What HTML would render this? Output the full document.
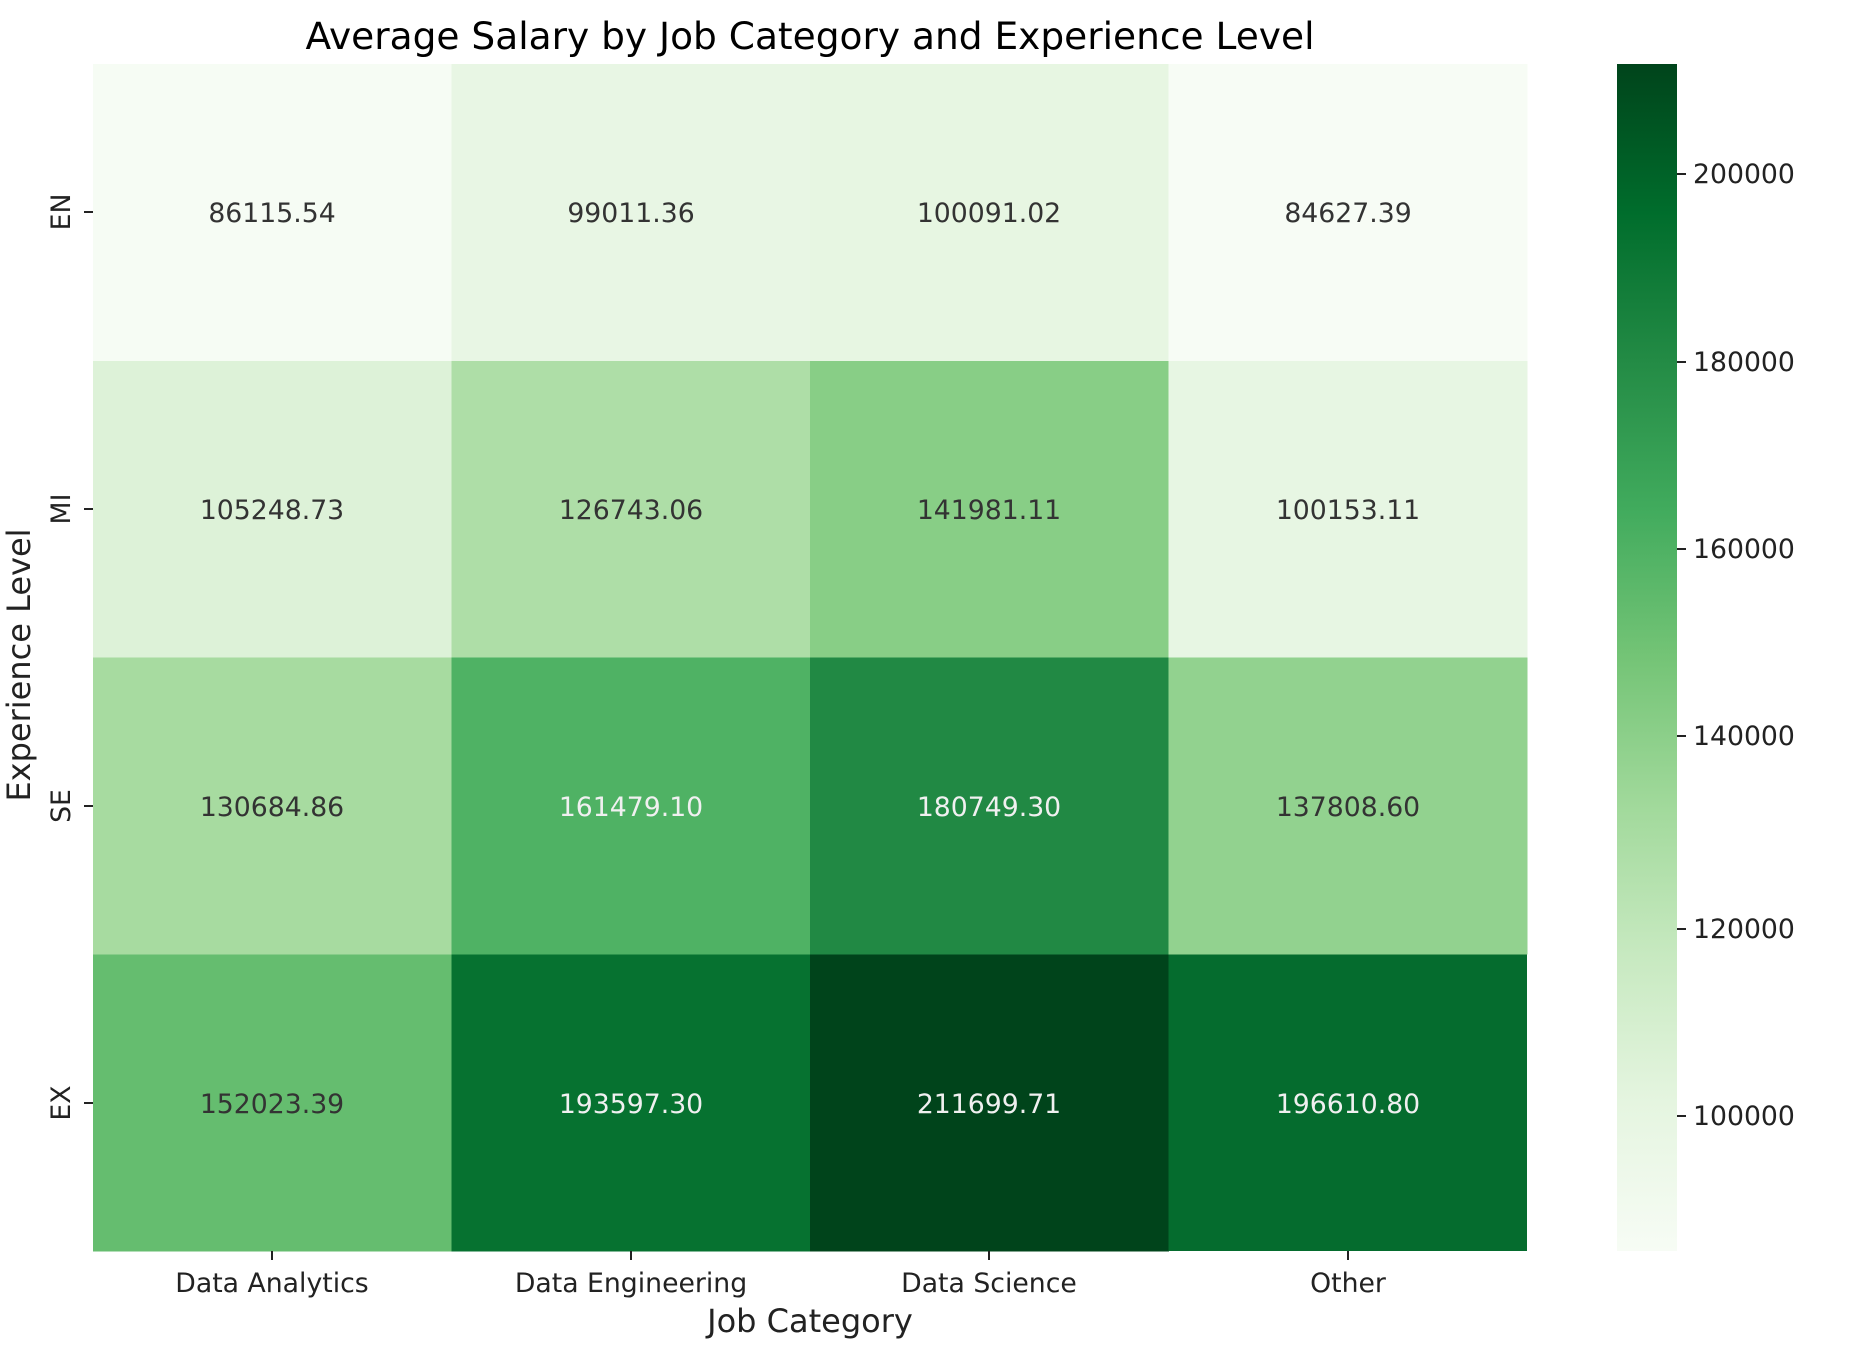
<!DOCTYPE html>
<html><head><meta charset="utf-8"><style>html,body{margin:0;padding:0;background:#fff}svg{display:block}text{font-family:"DejaVu Sans","Liberation Sans",sans-serif}</style></head>
<body>
<svg width="1860" height="1356" viewBox="0 0 1860 1356" xmlns="http://www.w3.org/2000/svg">
<defs>
<linearGradient id="g" x1="0" y1="1" x2="0" y2="0">
<stop offset="0" stop-color="#f7fcf5"/><stop offset="0.125" stop-color="#e5f5e0"/><stop offset="0.25" stop-color="#c7e9c0"/><stop offset="0.375" stop-color="#a1d99b"/><stop offset="0.5" stop-color="#74c476"/><stop offset="0.625" stop-color="#41ab5d"/><stop offset="0.75" stop-color="#238b45"/><stop offset="0.875" stop-color="#006d2c"/><stop offset="1" stop-color="#00441b"/>
</linearGradient>
</defs>
<text x="810" y="49" font-size="37.5" text-anchor="middle" fill="#000">Average Salary by Job Category and Experience Level</text>
<g shape-rendering="crispEdges">
<rect x="93" y="64" width="359" height="297" fill="#f6fcf4"/>
<rect x="451.5" y="64" width="359" height="297" fill="#e8f6e4"/>
<rect x="810" y="64" width="359" height="297" fill="#e7f6e2"/>
<rect x="1168.5" y="64" width="359" height="297" fill="#f7fcf5"/>
<rect x="93" y="360.75" width="359" height="297" fill="#ddf2d8"/>
<rect x="451.5" y="360.75" width="359" height="297" fill="#aedea7"/>
<rect x="810" y="360.75" width="359" height="297" fill="#88ce86"/>
<rect x="1168.5" y="360.75" width="359" height="297" fill="#e7f6e3"/>
<rect x="93" y="657.5" width="359" height="297" fill="#a7dba0"/>
<rect x="451.5" y="657.5" width="359" height="297" fill="#4fb264"/>
<rect x="810" y="657.5" width="359" height="297" fill="#218944"/>
<rect x="1168.5" y="657.5" width="359" height="297" fill="#92d28f"/>
<rect x="93" y="954.25" width="359" height="297" fill="#65bd6f"/>
<rect x="451.5" y="954.25" width="359" height="297" fill="#067230"/>
<rect x="810" y="954.25" width="359" height="297" fill="#00441b"/>
<rect x="1168.5" y="954.25" width="358.5" height="296.75" fill="#056c2e"/>
<rect x="1617" y="64" width="60" height="1187" fill="url(#g)"/>
</g>
<g font-size="26.7" text-anchor="middle">
<g fill="#333">
<text x="272" y="222">86115.54</text><text x="631" y="222">99011.36</text><text x="989" y="222">100091.02</text><text x="1348" y="222">84627.39</text>
<text x="272" y="519">105248.73</text><text x="631" y="519">126743.06</text><text x="989" y="519">141981.11</text><text x="1348" y="519">100153.11</text>
<text x="272" y="816">130684.86</text><text x="1348" y="816">137808.60</text>
<text x="272" y="1113">152023.39</text>
</g>
<g fill="#f0f0f0">
<text x="631" y="816">161479.10</text><text x="989" y="816">180749.30</text>
<text x="631" y="1113">193597.30</text><text x="989" y="1113">211699.71</text><text x="1348" y="1113">196610.80</text>
</g>
</g>
<g stroke="#222" stroke-width="2">
<line x1="272" y1="1251" x2="272" y2="1260"/><line x1="631" y1="1251" x2="631" y2="1260"/><line x1="989" y1="1251" x2="989" y2="1260"/><line x1="1348" y1="1251" x2="1348" y2="1260"/>
<line x1="84" y1="212" x2="93" y2="212"/><line x1="84" y1="509" x2="93" y2="509"/><line x1="84" y1="806" x2="93" y2="806"/><line x1="84" y1="1103" x2="93" y2="1103"/>
<line x1="1677" y1="1116" x2="1686" y2="1116"/><line x1="1677" y1="929" x2="1686" y2="929"/><line x1="1677" y1="736" x2="1686" y2="736"/><line x1="1677" y1="549" x2="1686" y2="549"/><line x1="1677" y1="362" x2="1686" y2="362"/><line x1="1677" y1="174" x2="1686" y2="174"/>
</g>
<g font-size="26.7" fill="#222" text-anchor="middle">
<text x="272" y="1292">Data Analytics</text><text x="631" y="1292">Data Engineering</text><text x="989" y="1292">Data Science</text><text x="1348" y="1292">Other</text>
<text transform="translate(70,212) rotate(-90)">EN</text>
<text transform="translate(70,509) rotate(-90)">MI</text>
<text transform="translate(70,806) rotate(-90)">SE</text>
<text transform="translate(70,1103) rotate(-90)">EX</text>
</g>
<g font-size="26.7" fill="#222">
<text x="1693" y="1125">100000</text><text x="1693" y="938">120000</text><text x="1693" y="745">140000</text><text x="1693" y="558">160000</text><text x="1693" y="371">180000</text><text x="1693" y="183">200000</text>
</g>
<text x="810" y="1332" font-size="32" text-anchor="middle" fill="#222">Job Category</text>
<text transform="translate(30,665) rotate(-90)" font-size="32" text-anchor="middle" fill="#222">Experience Level</text>
</svg>
</body></html>
